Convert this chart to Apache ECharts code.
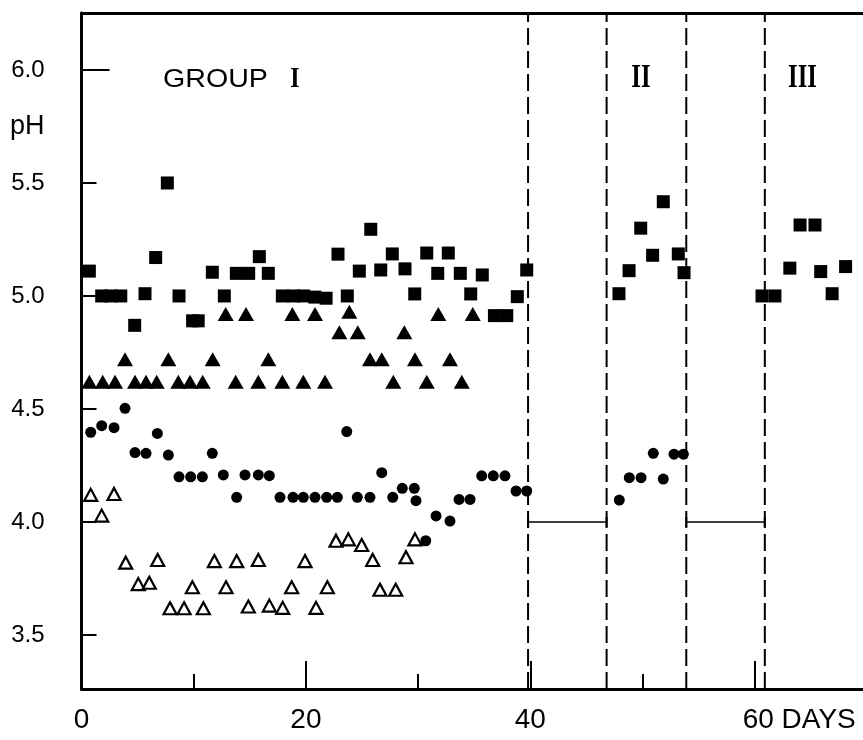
<!DOCTYPE html>
<html>
<head>
<meta charset="utf-8">
<script src="https://cdn.jsdelivr.net/npm/echarts@6/dist/echarts.min.js"></script>
<style>
html,body{margin:0;padding:0;background:#fff;}
#chart{width:863px;height:740px;}
</style>
</head>
<body>
<div id="chart"></div>
<script>
// ---- Data (day, pH) ----
const filledSquares = [
  [0.7,5.11],[1.8,5.0],[2.6,5.0],[3.5,5.0],[4.74,4.87],[5.66,5.01],[6.61,5.17],[7.65,5.50],
  [8.69,5.0],[9.9,4.89],[10.4,4.89],[11.66,5.105],[12.73,5.0],[13.8,5.10],[14.9,5.10],
  [15.85,5.174],[16.65,5.10],[17.9,5.0],[18.9,5.0],[19.8,5.0],[20.8,4.995],[21.8,4.99],
  [22.86,5.185],[23.69,5.0],[24.76,5.11],[25.78,5.295],[26.67,5.115],[27.7,5.186],
  [28.83,5.12],[29.7,5.009],[30.77,5.19],[31.75,5.10],[32.69,5.19],[33.76,5.10],
  [34.69,5.009],[35.72,5.093],[36.8,4.913],[37.9,4.913],[38.84,4.997],[39.68,5.115],
  [47.9,5.01],[48.8,5.112],[49.84,5.30],[50.9,5.18],[51.85,5.417],[53.19,5.186],[53.7,5.103],
  [60.65,5.0],[61.8,5.0],[63.13,5.123],[64.04,5.314],[65.37,5.314],[65.88,5.108],[66.9,5.01],[68.1,5.13]
];
const filledTriangles = [
  [0.7,4.62],[1.89,4.62],[2.99,4.62],[3.88,4.72],[4.77,4.62],[5.75,4.62],[6.7,4.62],[7.74,4.72],
  [8.63,4.62],[9.67,4.62],[10.8,4.62],[11.69,4.72],[12.85,4.92],[13.74,4.62],[14.66,4.92],
  [15.76,4.62],[16.65,4.72],[17.9,4.62],[18.79,4.92],[19.77,4.62],[20.81,4.92],[21.7,4.62],
  [22.98,4.84],[23.87,4.93],[24.62,4.84],[25.71,4.72],[26.76,4.72],[27.79,4.62],[28.77,4.84],
  [29.72,4.72],[30.77,4.62],[31.8,4.92],[32.84,4.72],[33.89,4.62],[34.87,4.92]
];
const filledCircles = [
  [0.82,4.397],[1.8,4.426],[2.9,4.417],[3.88,4.503],[4.77,4.307],[5.75,4.304],[6.76,4.392],
  [7.74,4.296],[8.69,4.20],[9.73,4.20],[10.77,4.20],[11.66,4.304],[12.64,4.208],[13.83,4.109],
  [14.57,4.208],[15.76,4.208],[16.74,4.205],[17.69,4.109],[18.85,4.109],[19.77,4.109],
  [20.81,4.109],[21.85,4.109],[22.8,4.109],[23.64,4.40],[24.58,4.109],[25.71,4.109],
  [26.76,4.218],[27.74,4.109],[28.59,4.149],[29.66,4.149],[29.81,4.094],[30.68,3.917],
  [31.6,4.027],[32.84,4.004],[33.65,4.10],[34.63,4.10],[35.67,4.204],[36.7,4.204],[37.74,4.204],
  [38.73,4.137],[39.68,4.137],[47.93,4.097],[48.82,4.196],[49.87,4.196],[50.96,4.304],
  [51.85,4.19],[52.81,4.30],[53.64,4.30]
];
const openTriangles = [
  [0.82,4.12],[1.8,4.028],[2.9,4.124],[3.94,3.82],[5.06,3.725],[6.04,3.731],[6.79,3.832],
  [7.89,3.618],[9.14,3.618],[9.88,3.711],[10.86,3.618],[11.84,3.827],[12.88,3.711],[13.83,3.827],
  [14.87,3.626],[15.76,3.832],[16.74,3.63],[17.93,3.62],[18.73,3.711],[19.92,3.827],[20.9,3.62],
  [21.91,3.711],[22.68,3.917],[23.78,3.923],[24.97,3.898],[25.95,3.832],[26.6,3.70],[28.0,3.70],
  [28.92,3.844],[29.72,3.923]
];
const dividerDays = [39.8, 46.8, 53.9, 60.9];
const baselinePH = 4.0;
const baselineSegments = [[39.8, 46.8], [53.9, 60.9]];
const xLabelTicks = [0, 20, 40, 60];
const xMajorTicks = [20, 40, 60];
const xMinorTicks = [10, 30, 50];
const yTicks = [3.5, 4.0, 4.5, 5.0, 5.5];
const yLongTicks = [6.0];
const yLabelValues = [3.5, 4.0, 4.5, 5.0, 5.5, 5.75, 6.0];
const X_MIN = 0, X_MAX = 69.65, Y_MIN = 3.261, Y_MAX = 6.252;

const chart = echarts.init(document.getElementById('chart'), null, {renderer: 'canvas'});
const black = '#000';
const lineSer = (data, extra) => Object.assign({
  type: 'line', data: data, silent: true, animation: false,
  showSymbol: false, symbol: 'none',
  lineStyle: {color: black, width: 2}, z: 1
}, extra || {});

const series = [];
dividerDays.forEach(d => series.push(lineSer([[d, Y_MIN], [d, Y_MAX]], {
  lineStyle: {color: black, width: 2, type: [17, 6]}
})));
baselineSegments.forEach(s => series.push(lineSer([[s[0], baselinePH], [s[1], baselinePH]], {
  showSymbol: true, symbol: 'rect', symbolSize: [2, 10],
  itemStyle: {color: black, opacity: 1}, lineStyle: {color: black, width: 1.6}
})));
series.push({type: 'scatter', data: filledSquares, symbol: 'rect', symbolSize: 13,
  itemStyle: {color: black, opacity: 1}, silent: true, z: 3});
series.push({type: 'scatter', data: filledTriangles, symbol: 'triangle', symbolSize: [16, 14],
  itemStyle: {color: black, opacity: 1}, silent: true, z: 3});
series.push({type: 'scatter', data: filledCircles, symbol: 'circle', symbolSize: 11,
  itemStyle: {color: black, opacity: 1}, silent: true, z: 3});
series.push({type: 'scatter', data: openTriangles, symbol: 'triangle', symbolSize: [13, 12],
  itemStyle: {color: '#fff', borderColor: black, borderWidth: 2.2, opacity: 1}, silent: true, z: 3});

const noSplit = {show: false};
chart.setOption({
  animation: false,
  backgroundColor: '#fff',
  grid: {left: 81.5, right: 0, top: 13, bottom: 51, outerBoundsMode: 'none', containLabel: false},
  xAxis: [
    {type: 'value', min: X_MIN, max: X_MAX, position: 'bottom',
     axisLine: {show: true, onZero: false, lineStyle: {color: black, width: 3}},
     axisTick: {show: true, inside: true, length: 28, customValues: xMajorTicks, lineStyle: {color: black, width: 2}},
     axisLabel: {show: true, customValues: xLabelTicks, margin: 17, color: black,
       fontFamily: 'Liberation Sans', fontSize: 28,
       formatter: v => v === 60 ? '{pad| }60 DAYS' : String(v),
       rich: {pad: {width: 89, fontSize: 28, fontFamily: 'Liberation Sans'}}},
     splitLine: noSplit},
    {type: 'value', min: X_MIN, max: X_MAX, position: 'bottom',
     axisLine: {show: false, onZero: false},
     axisTick: {show: true, inside: true, length: 15, customValues: xMinorTicks, lineStyle: {color: black, width: 2}},
     axisLabel: {show: false}, splitLine: noSplit},
    {type: 'value', min: X_MIN, max: X_MAX, position: 'top',
     axisLine: {show: true, onZero: false, lineStyle: {color: black, width: 3}},
     axisTick: {show: false}, axisLabel: {show: false}, splitLine: noSplit}
  ],
  yAxis: [
    {type: 'value', min: Y_MIN, max: Y_MAX, position: 'left',
     axisLine: {show: true, onZero: false, lineStyle: {color: black, width: 3}},
     axisTick: {show: true, inside: true, length: 15, customValues: yTicks, lineStyle: {color: black, width: 2}},
     axisLabel: {show: true, customValues: yLabelValues, margin: 37, color: black,
       fontFamily: 'Liberation Sans', fontSize: 24,
       formatter: v => Math.abs(v - 5.75) < 1e-6 ? '{ph|pH}' : v.toFixed(1),
       rich: {ph: {fontSize: 27, fontFamily: 'Liberation Sans', color: black}}},
     splitLine: noSplit},
    {type: 'value', min: Y_MIN, max: Y_MAX, position: 'left',
     axisLine: {show: false, onZero: false},
     axisTick: {show: true, inside: true, length: 28, customValues: yLongTicks, lineStyle: {color: black, width: 2}},
     axisLabel: {show: false}, splitLine: noSplit}
  ],
  series: series,
  graphic: [
    {type: 'text', x: 163, y: 80, scaleX: 1.1, silent: true,
     style: {text: 'GROUP', font: '26px "Liberation Sans"', fill: black, textAlign: 'left', textVerticalAlign: 'middle'}},
    {type: 'text', x: 295, y: 79, scaleX: 0.8, silent: true,
     style: {text: 'I', font: 'bold 30px "Liberation Serif"', fill: black, textAlign: 'center', textVerticalAlign: 'middle'}},
    {type: 'text', x: 641, y: 78, scaleX: 0.75, silent: true,
     style: {text: 'II', font: 'bold 33px "Liberation Serif"', fill: black, textAlign: 'center', textVerticalAlign: 'middle'}},
    {type: 'text', x: 802.5, y: 78, scaleX: 0.75, silent: true,
     style: {text: 'III', font: 'bold 33px "Liberation Serif"', fill: black, textAlign: 'center', textVerticalAlign: 'middle'}}
  ]
});
</script>
</body>
</html>
